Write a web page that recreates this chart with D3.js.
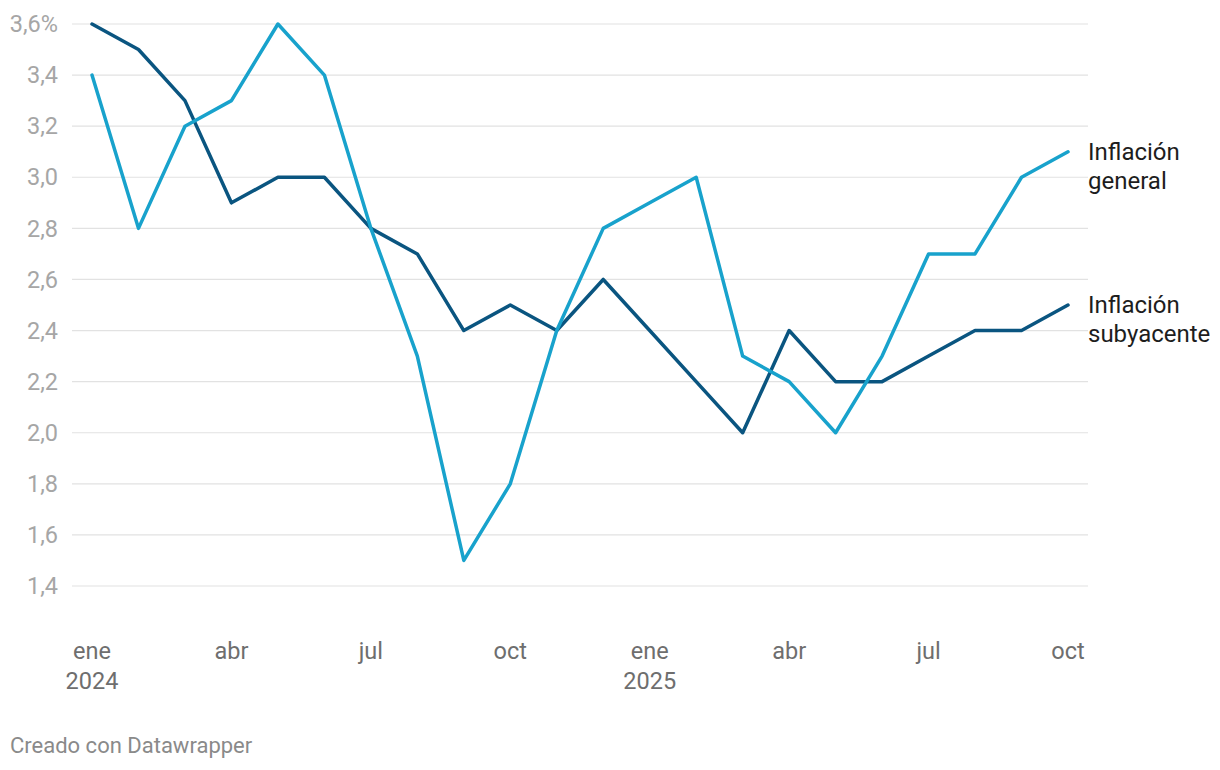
<!DOCTYPE html>
<html><head><meta charset="utf-8">
<script src="https://cdn.jsdelivr.net/npm/d3@7"></script>
<style>
body{margin:0;background:#fff;}
svg{font-family:Roboto,"Noto Sans",sans-serif;}
</style></head>
<body><svg id="c" width="1220" height="770"></svg>
<script>
const months = ["2024-01","2024-02","2024-03","2024-04","2024-05","2024-06","2024-07","2024-08","2024-09","2024-10","2024-11","2024-12","2025-01","2025-02","2025-03","2025-04","2025-05","2025-06","2025-07","2025-08","2025-09","2025-10"];
const general = [3.4,2.8,3.2,3.3,3.6,3.4,2.8,2.3,1.5,1.8,2.4,2.8,2.9,3.0,2.3,2.2,2.0,2.3,2.7,2.7,3.0,3.1];
const core = [3.6,3.5,3.3,2.9,3.0,3.0,2.8,2.7,2.4,2.5,2.4,2.6,2.4,2.2,2.0,2.4,2.2,2.2,2.3,2.4,2.4,2.5];
const yTicks = [1.4,1.6,1.8,2.0,2.2,2.4,2.6,2.8,3.0,3.2,3.4,3.6];
const xTickIdx = [0,3,6,9,12,15,18,21];
const xTickLabels = [["ene","2024"],["abr"],["jul"],["oct"],["ene","2025"],["abr"],["jul"],["oct"]];
const seriesNames = [["Inflación","general"],["Inflación","subyacente"]];

const svg = d3.select("#c");
const x = d3.scaleLinear().domain([0, months.length-1]).range([92,1068]);
const y = d3.scaleLinear().domain([1.4,3.6]).range([586,24]);

// grid
const g = svg.append("g");
g.selectAll("line.grid").data(yTicks).join("line")
  .attr("x1",72).attr("x2",1088)
  .attr("y1",d=>y(d)).attr("y2",d=>y(d))
  .attr("stroke","#e2e2e2").attr("stroke-width",1.2);
g.selectAll("text.yt").data(yTicks).join("text")
  .attr("x",58).attr("y",d=>y(d)).attr("dy","0.35em")
  .attr("text-anchor","end").attr("fill","#a6a6a6").attr("font-size",23.5)
  .text((d,i)=> d.toFixed(1).replace(".",",") + (i===yTicks.length-1?"%":""));

// x ticks
const xt = svg.append("g");
xTickIdx.forEach((idx,i)=>{
  const t = xt.append("text").attr("x",x(idx)).attr("y",659)
    .attr("text-anchor","middle").attr("fill","#6e6e6e").attr("font-size",23.5);
  xTickLabels[i].forEach((s,j)=>{
    t.append("tspan").attr("x",x(idx)).attr("dy", j===0?0:30).text(s);
  });
});

const line = d3.line().x((d,i)=>x(i)).y(d=>y(d));
svg.append("path").datum(core).attr("d",line).attr("fill","none")
  .attr("stroke","#0a5580").attr("stroke-width",3.5).attr("stroke-linejoin","round").attr("stroke-linecap","round");
svg.append("path").datum(general).attr("d",line).attr("fill","none")
  .attr("stroke","#18a2cc").attr("stroke-width",3.5).attr("stroke-linejoin","round").attr("stroke-linecap","round");

// labels
const lastVals = [general[general.length-1], core[core.length-1]];
seriesNames.forEach((nm,i)=>{
  const t = svg.append("text").attr("x",1088).attr("y",y(lastVals[i])+8)
    .attr("fill","#1d1d1d").attr("font-size",24);
  nm.forEach((s,j)=>t.append("tspan").attr("x",1088).attr("dy",j===0?0:29).text(s));
});

svg.append("text").attr("x",10).attr("y",753).attr("fill","#8a8a8a").attr("font-size",22)
  .text("Creado con Datawrapper");
</script></body></html>
